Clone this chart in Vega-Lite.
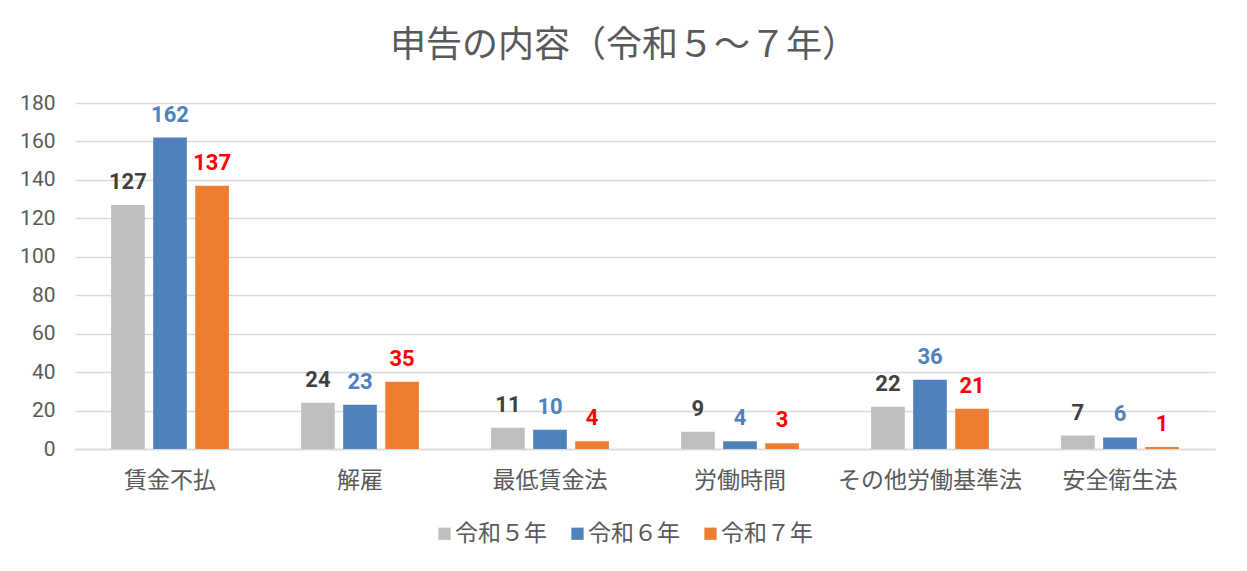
{
  "$schema": "https://vega.github.io/schema/vega-lite/v6.json",
  "width": 1140,
  "height": 346,
  "autosize": {"type": "none"},
  "padding": {"left": 75, "top": 103, "right": 32, "bottom": 122},
  "background": "white",
  "title": {
    "text": "申告の内容（令和５～７年）",
    "font": "Noto Sans CJK JP",
    "fontSize": 36,
    "fontWeight": "normal",
    "color": "#595959",
    "anchor": "middle",
    "frame": "group",
    "dx": -21,
    "offset": 27
  },
  "data": {
    "values": [
      {"category": "賃金不払", "year": "令和５年", "count": 127},
      {"category": "賃金不払", "year": "令和６年", "count": 162},
      {"category": "賃金不払", "year": "令和７年", "count": 137},
      {"category": "解雇", "year": "令和５年", "count": 24},
      {"category": "解雇", "year": "令和６年", "count": 23},
      {"category": "解雇", "year": "令和７年", "count": 35},
      {"category": "最低賃金法", "year": "令和５年", "count": 11},
      {"category": "最低賃金法", "year": "令和６年", "count": 10},
      {"category": "最低賃金法", "year": "令和７年", "count": 4},
      {"category": "労働時間", "year": "令和５年", "count": 9},
      {"category": "労働時間", "year": "令和６年", "count": 4},
      {"category": "労働時間", "year": "令和７年", "count": 3},
      {"category": "その他労働基準法", "year": "令和５年", "count": 22},
      {"category": "その他労働基準法", "year": "令和６年", "count": 36},
      {"category": "その他労働基準法", "year": "令和７年", "count": 21},
      {"category": "安全衛生法", "year": "令和５年", "count": 7},
      {"category": "安全衛生法", "year": "令和６年", "count": 6},
      {"category": "安全衛生法", "year": "令和７年", "count": 1}
    ]
  },
  "encoding": {
    "x": {
      "field": "category",
      "type": "nominal",
      "sort": null,
      "title": null,
      "scale": {"paddingInner": 0.38, "paddingOuter": 0.19},
      "axis": {
        "labelAngle": 0,
        "labelFont": "Noto Sans CJK JP",
        "labelFontSize": 23,
        "labelColor": "#595959",
        "labelPadding": 20,
        "labelLimit": 0,
        "ticks": false,
        "domainColor": "#d9d9d9",
        "domainWidth": 1.5,
        "grid": false
      }
    },
    "xOffset": {
      "field": "year",
      "type": "nominal",
      "sort": ["令和５年", "令和６年", "令和７年"],
      "scale": {"paddingInner": 0.2, "paddingOuter": 0}
    },
    "y": {
      "field": "count",
      "type": "quantitative",
      "title": null,
      "scale": {"domain": [0, 180], "nice": false},
      "axis": {
        "values": [0, 20, 40, 60, 80, 100, 120, 140, 160, 180],
        "labelFont": "Roboto",
        "labelFontSize": 21,
        "labelColor": "#595959",
        "labelPadding": 20,
        "ticks": false,
        "domain": false,
        "gridColor": "#d9d9d9",
        "gridWidth": 1.5
      }
    }
  },
  "layer": [
    {
      "mark": {"type": "bar"},
      "encoding": {
        "color": {
          "field": "year",
          "type": "nominal",
          "sort": ["令和５年", "令和６年", "令和７年"],
          "scale": {
            "domain": ["令和５年", "令和６年", "令和７年"],
            "range": ["#bfbfbf", "#4f81bd", "#ed7d31"]
          },
          "legend": {
            "title": null,
            "orient": "none",
            "direction": "horizontal",
            "legendX": 358,
            "legendY": 419,
            "symbolType": "square",
            "symbolSize": 150,
            "symbolStrokeWidth": 0,
            "labelFont": "Noto Sans CJK JP",
            "labelFontSize": 23,
            "labelColor": "#595959",
            "columnPadding": 19,
            "labelOffset": -1
          }
        }
      }
    },
    {
      "mark": {
        "type": "text",
        "baseline": "alphabetic",
        "dy": -16,
        "font": "Roboto",
        "fontSize": 22,
        "fontWeight": "bold"
      },
      "encoding": {
        "text": {"field": "count", "type": "quantitative"},
        "color": {
          "field": "year",
          "type": "nominal",
          "scale": {
            "domain": ["令和５年", "令和６年", "令和７年"],
            "range": ["#404040", "#4f81bd", "#ff0000"]
          },
          "legend": null
        }
      }
    }
  ],
  "resolve": {"scale": {"color": "independent"}},
  "config": {
    "view": {"stroke": null}
  }
}
